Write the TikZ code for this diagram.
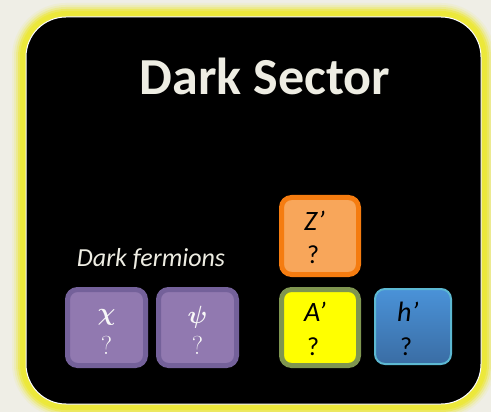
\documentclass[tikz,border=0pt]{standalone}
\usepackage{fontspec}
\setmainfont{Carlito}
\definecolor{bgc}{HTML}{EFEEE6}
\definecolor{glow}{HTML}{ECE83A}
\definecolor{titlec}{HTML}{EEEDE3}
\definecolor{pfill}{HTML}{9179B0}
\definecolor{pline}{HTML}{74619A}
\definecolor{ofill}{HTML}{F8A65A}
\definecolor{oline}{HTML}{F57C10}
\definecolor{yfill}{HTML}{FFFF00}
\definecolor{yline}{HTML}{7F9650}
\definecolor{btop}{HTML}{4A92D8}
\definecolor{bbot}{HTML}{3A6DA4}
\definecolor{bline}{HTML}{5CB8D2}
\tikzset{
  pbox/.style={draw=pline, fill=pfill, line width=5pt, rounded corners=10pt, minimum width=78pt, minimum height=76pt, inner sep=0pt},
  obox/.style={draw=oline, fill=ofill, line width=5pt, rounded corners=10pt, minimum width=77pt, minimum height=77pt, inner sep=0pt},
  ybox/.style={draw=yline, fill=yfill, line width=5pt, rounded corners=10pt, minimum width=77pt, minimum height=76pt, inner sep=0pt},
  bbox/.style={draw=bline, top color=btop, bottom color=bbot, line width=2pt, rounded corners=10pt, minimum width=76pt, minimum height=75pt, inner sep=0pt},
  greek/.style={text=white!94!gray, inner sep=0pt, font=\fontfamily{lmr}\fontsize{29}{31}\selectfont\boldmath},
  qserif/.style={text=white!94!gray, inner sep=0pt, font=\fontfamily{lmr}\fontsize{26}{28}\selectfont},
  cname/.style={text=black, font=\itshape\fontsize{28}{30}\selectfont, inner sep=0pt, anchor=base west},
  cq/.style={text=black, font=\fontsize{26}{28}\selectfont, inner sep=0pt, anchor=base west},
}
\begin{document}
\begin{tikzpicture}[x=1pt,y=-1pt]
\useasboundingbox (0,0) rectangle (491,412);
\fill[bgc] (0,0) rectangle (491,412);
% glow
\foreach \w/\o in {28/0.1,24/0.18,20/0.3,16/0.55,12/0.85,9/1}{
  \draw[glow, line width=\w pt, opacity=\o, rounded corners=40pt] (26,17) rectangle (481,404);
}
\draw[fill=black, draw=white, line width=1pt, rounded corners=40pt] (26,17) rectangle (481,404);
\node[text=titlec, font=\bfseries\fontsize{52}{54}\selectfont] (title) at (265,76) {Dark Sector};
\node[text=titlec, font=\itshape\fontsize{26}{28}\selectfont] (fermlabel) at (151,259) {Dark fermions};
% boxes
\node[pbox] (chi) at (106.5,327.5) {};
\node[pbox] (psi) at (197.5,327.5) {};
\node[obox] (zp) at (320,236) {};
\node[ybox] (ap) at (320,327.5) {};
\node[bbox] (hp) at (413,326.5) {};
% texts
\node[greek] (chit) at (106.5,317) {$\chi$};
\node[qserif] (chiq) at (106.5,345) {?};
\node[greek] (psit) at (197.5,317) {$\psi$};
\node[qserif] (psiq) at (197.5,345) {?};
\node[cname] (zpt) at (304,230) {Z’};
\node[cq] (zpq) at (307,264) {?};
\node[cname] (apt) at (304,321) {A’};
\node[cq] (apq) at (307,355) {?};
\node[cname] (hpt) at (397,321) {h’};
\node[cq] (hpq) at (400,355) {?};
\end{tikzpicture}
\end{document}
